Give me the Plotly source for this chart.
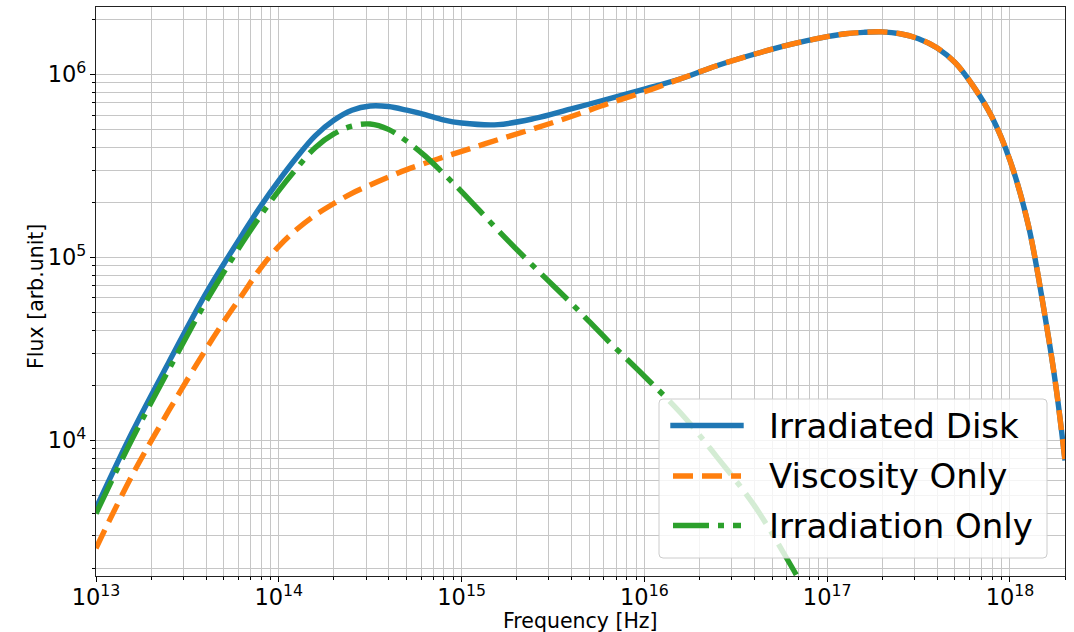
import plotly.graph_objects as go

# ---------------- data ----------------
freq_disk = [1.0e13, 1.58e13, 2.51e13, 3.98e13, 5.01e13, 6.31e13, 7.94e13, 1.0e14, 1.26e14,
             1.58e14, 2.0e14, 2.51e14, 3.16e14, 3.98e14, 5.01e14, 6.31e14, 7.94e14, 1.0e15,
             1.58e15, 2.51e15, 3.98e15, 6.31e15, 1.0e16, 1.58e16, 2.51e16, 3.98e16, 6.31e16,
             1.0e17, 1.26e17, 1.58e17, 2.0e17, 2.51e17, 3.16e17, 3.98e17, 5.01e17, 6.31e17,
             7.94e17, 1.0e18, 1.26e18, 1.58e18, 1.78e18, 2.0e18]
flux_disk = [4.25e3, 1.11e4, 2.69e4, 6.31e4, 9.23e4, 1.33e5, 1.90e5, 2.63e5, 3.55e5,
             4.62e5, 5.62e5, 6.38e5, 6.73e5, 6.68e5, 6.38e5, 6.03e5, 5.65e5, 5.43e5,
             5.32e5, 5.75e5, 6.49e5, 7.33e5, 8.32e5, 9.48e5, 1.12e6, 1.29e6, 1.46e6,
             1.61e6, 1.67e6, 1.70e6, 1.71e6, 1.67e6, 1.57e6, 1.40e6, 1.16e6, 8.61e5,
             5.89e5, 3.39e5, 1.50e5, 4.32e4, 2.0e4, 7.76e3]

freq_visc = [1.0e13, 1.58e13, 2.51e13, 3.98e13, 5.01e13, 6.31e13, 7.94e13, 1.0e14, 1.26e14,
             1.58e14, 2.0e14, 2.51e14, 3.16e14, 3.98e14, 5.01e14, 6.31e14, 7.94e14, 1.0e15,
             1.58e15, 2.51e15, 3.98e15, 6.31e15, 1.0e16, 1.58e16, 2.51e16, 3.98e16, 6.31e16,
             1.0e17, 1.26e17, 1.58e17, 2.0e17, 2.51e17, 3.16e17, 3.98e17, 5.01e17, 6.31e17,
             7.94e17, 1.0e18, 1.26e18, 1.58e18, 1.78e18, 2.0e18]
flux_visc = [2.57e3, 6.46e3, 1.46e4, 3.13e4, 4.47e4, 6.24e4, 8.71e4, 1.15e5, 1.43e5,
             1.70e5, 1.97e5, 2.24e5, 2.49e5, 2.75e5, 3.02e5, 3.27e5, 3.53e5, 3.80e5,
             4.40e5, 5.07e5, 5.89e5, 6.92e5, 8.04e5, 9.48e5, 1.12e6, 1.29e6, 1.46e6,
             1.61e6, 1.67e6, 1.70e6, 1.71e6, 1.67e6, 1.57e6, 1.40e6, 1.16e6, 8.61e5,
             5.89e5, 3.39e5, 1.50e5, 4.32e4, 2.0e4, 7.76e3]

freq_irr = [1.0e13, 1.58e13, 2.51e13, 3.98e13, 5.01e13, 6.31e13, 7.94e13, 1.0e14, 1.26e14,
            1.58e14, 2.0e14, 2.51e14, 3.16e14, 3.98e14, 5.01e14, 6.31e14, 7.94e14, 1.0e15,
            1.58e15, 2.51e15, 3.98e15, 6.31e15, 1.0e16, 1.58e16, 2.51e16, 3.98e16, 6.31e16,
            7.94e16]
flux_irr = [3.98e3, 1.02e4, 2.45e4, 5.69e4, 8.32e4, 1.20e5, 1.69e5, 2.32e5, 3.09e5,
            3.98e5, 4.73e5, 5.22e5, 5.36e5, 5.01e5, 4.32e5, 3.59e5, 2.88e5, 2.29e5,
            1.41e5, 8.81e4, 5.62e4, 3.51e4, 2.24e4, 1.41e4, 8.04e3, 4.42e3, 2.08e3,
            1.38e3]

series_names = ["Irradiated Disk", "Viscosity Only", "Irradiation Only"]
series_colors = ["#1f77b4", "#ff7f0e", "#2ca02c"]
series_dash = ["solid", "20px,9px", "36px,9px,6px,9px"]

x_range_log = [13, 18.301]
y_range_log = [3.258, 6.369]

x_title = "Frequency [Hz]"
y_title = "Flux [arb.unit]"

FONT = "DejaVu Sans"
LW = 5.4
GRID = "#c6c6c6"

# plot-area geometry (pixels)
L, R, T, B = 96, 9, 7, 56
W, H = 1074, 632
PW, PH = W - L - R, H - T - B

# ---------------- figure ----------------
fig = go.Figure()
for xs, ys, nm, col, dsh in zip([freq_disk, freq_visc, freq_irr],
                                [flux_disk, flux_visc, flux_irr],
                                series_names, series_colors, series_dash):
    fig.add_trace(go.Scatter(
        x=xs, y=ys, mode="lines", name=nm, showlegend=False,
        line=dict(color=col, width=LW, dash=dsh, shape="spline", smoothing=1.0),
        hoverinfo="skip"))

axis_common = dict(
    type="log", dtick=1, exponentformat="power", automargin=False,
    ticks="outside", ticklen=5, tickwidth=1, tickcolor="black",
    showline=True, mirror=True, linecolor="#222222", linewidth=1,
    showgrid=True, gridcolor=GRID, gridwidth=1, zeroline=False,
    tickfont=dict(family=FONT, size=18, color="black"),
    minor=dict(dtick="D1", ticks="outside", ticklen=3, tickwidth=1,
               tickcolor="black", showgrid=True, gridcolor=GRID, gridwidth=1),
)

fig.update_layout(
    width=W, height=H,
    margin=dict(l=L, r=R, t=T, b=B, autoexpand=False),
    paper_bgcolor="white", plot_bgcolor="white",
    font=dict(family=FONT, color="black"),
    xaxis=dict(range=x_range_log, ticklabelstandoff=-3, **axis_common),
    yaxis=dict(range=y_range_log, **axis_common),
    showlegend=False,
)

def px_x(p):
    return (p - L) / PW

def px_y(p):
    return (H - B - p) / PH

annotations = [
    dict(xref="paper", yref="paper", x=px_x(580.5), y=px_y(621), xanchor="center",
         yanchor="middle", showarrow=False, text=x_title,
         font=dict(family=FONT, size=20.5, color="black")),
    dict(xref="paper", yref="paper", x=px_x(36), y=px_y(297), xanchor="center",
         yanchor="middle", showarrow=False, text=y_title, textangle=-90,
         font=dict(family=FONT, size=20.5, color="black")),
]

# ---------------- legend (drawn box, handles and labels) ----------------
bx0, bx1, by0, by1 = px_x(659), px_x(1047), px_y(558), px_y(399)
rx, ry = 4 / PW, 4 / PH
path = (f"M {bx0+rx},{by0} L {bx1-rx},{by0} Q {bx1},{by0} {bx1},{by0+ry} "
        f"L {bx1},{by1-ry} Q {bx1},{by1} {bx1-rx},{by1} L {bx0+rx},{by1} "
        f"Q {bx0},{by1} {bx0},{by1-ry} L {bx0},{by0+ry} Q {bx0},{by0} {bx0+rx},{by0} Z")
shapes = [dict(type="path", xref="paper", yref="paper", path=path,
               fillcolor="rgba(255,255,255,0.8)",
               line=dict(color="#cccccc", width=1), layer="above")]

row_y = [425.5, 476, 525.5]
for i, (nm, col, dsh) in enumerate(zip(series_names, series_colors, series_dash)):
    yy = px_y(row_y[i])
    if dsh == "solid":
        hx0, hx1 = px_x(670.3), px_x(743.7)
    else:
        hx0, hx1 = px_x(673), px_x(741)
    shapes.append(dict(type="line", xref="paper", yref="paper",
                       x0=hx0, x1=hx1, y0=yy, y1=yy, layer="above",
                       line=dict(color=col, width=LW, dash=dsh)))
    annotations.append(dict(xref="paper", yref="paper", x=px_x(767), y=yy,
                            xanchor="left", yanchor="middle", showarrow=False,
                            text=nm, font=dict(family=FONT, size=34, color="black")))

fig.update_layout(shapes=shapes, annotations=annotations)

fig.write_html("out.html")
